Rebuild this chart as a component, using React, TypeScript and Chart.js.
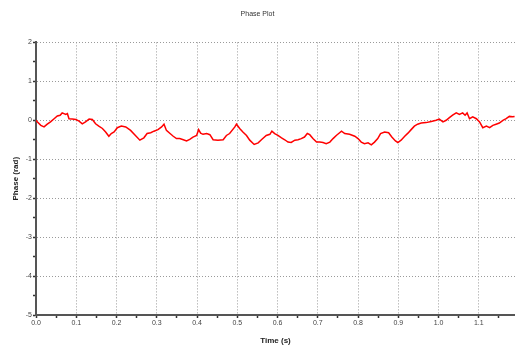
import React, { useEffect, useRef } from "react";
import { Chart, registerables } from "chart.js";

Chart.register(...registerables);

const chartTitle = "Phase Plot";
const xAxisTitle = "Time (s)";
const yAxisTitle = "Phase (rad)";

const timeValues = [
  0, 0.003, 0.012, 0.02, 0.028, 0.036, 0.045, 0.053, 0.06, 0.065, 0.074, 0.078, 0.082, 0.09, 0.099,
  0.107, 0.115, 0.123, 0.132, 0.14, 0.148, 0.156, 0.165, 0.173, 0.181, 0.187, 0.194, 0.202, 0.212,
  0.223, 0.235, 0.247, 0.258, 0.268, 0.276, 0.285, 0.293, 0.303, 0.312, 0.318, 0.324, 0.333, 0.341,
  0.349, 0.357, 0.366, 0.374, 0.382, 0.39, 0.399, 0.404, 0.409, 0.415, 0.424, 0.432, 0.44, 0.452,
  0.465, 0.473, 0.481, 0.494, 0.498, 0.506, 0.514, 0.523, 0.531, 0.542, 0.552, 0.56, 0.572, 0.581,
  0.586, 0.593, 0.601, 0.61, 0.618, 0.626, 0.634, 0.643, 0.651, 0.659, 0.667, 0.674, 0.68, 0.688,
  0.697, 0.705, 0.713, 0.721, 0.73, 0.738, 0.746, 0.752, 0.759, 0.767, 0.779, 0.792, 0.8, 0.808,
  0.816, 0.825, 0.833, 0.841, 0.849, 0.856, 0.866, 0.876, 0.884, 0.893, 0.899, 0.907, 0.916, 0.924,
  0.932, 0.94, 0.948, 0.957, 0.969, 0.982, 0.994, 1.002, 1.011, 1.019, 1.027, 1.035, 1.044, 1.052,
  1.06, 1.066, 1.071, 1.077, 1.085, 1.094, 1.102, 1.11, 1.119, 1.127, 1.135, 1.143, 1.151, 1.16,
  1.168, 1.176, 1.184, 1.189,
];

const phaseValues = [
  0, -0.04, -0.13, -0.17, -0.1, -0.04, 0.04, 0.11, 0.13, 0.19, 0.15, 0.17, 0.04, 0.03, 0.02,
  -0.02, -0.09, -0.04, 0.03, 0.02, -0.09, -0.15, -0.21, -0.3, -0.41, -0.34, -0.3, -0.19, -0.15,
  -0.17, -0.26, -0.39, -0.51, -0.45, -0.34, -0.32, -0.28, -0.24, -0.17, -0.1, -0.26, -0.34, -0.41,
  -0.47, -0.47, -0.5, -0.53, -0.49, -0.43, -0.39, -0.24, -0.33, -0.36, -0.34, -0.37, -0.5, -0.51,
  -0.5, -0.39, -0.34, -0.17, -0.1, -0.21, -0.3, -0.39, -0.51, -0.62, -0.58, -0.5, -0.39, -0.36,
  -0.28, -0.34, -0.39, -0.45, -0.5, -0.56, -0.57, -0.51, -0.5, -0.47, -0.43, -0.34, -0.37, -0.47,
  -0.56, -0.56, -0.57, -0.6, -0.56, -0.47, -0.39, -0.34, -0.28, -0.34, -0.36, -0.41, -0.47, -0.56,
  -0.6, -0.58, -0.63, -0.56, -0.47, -0.34, -0.3, -0.32, -0.43, -0.53, -0.57, -0.51, -0.41, -0.33,
  -0.24, -0.15, -0.1, -0.07, -0.06, -0.03, 0, 0.03, -0.04, 0, 0.07, 0.13, 0.19, 0.15,
  0.19, 0.13, 0.19, 0.04, 0.09, 0.04, -0.04, -0.19, -0.15, -0.19, -0.13, -0.1, -0.07, 0,
  0.04, 0.1, 0.09, 0.1,
];

const xMin = 0;
const xMax = 1.19;
const xMajorStep = 0.1;
const xMinorStep = 0.05;
const yMin = -5;
const yMax = 2;
const yMinorStep = 0.5;

function isMultiple(v: number, step: number) {
  const r = v / step;
  return Math.abs(r - Math.round(r)) < 1e-6;
}

export default function App() {
  const canvasRef = useRef<HTMLCanvasElement | null>(null);

  useEffect(() => {
    const canvas = canvasRef.current;
    if (!canvas) return;
    const points = timeValues.map((t, i) => ({ x: t, y: phaseValues[i] }));
    const tickFont = { family: "'Liberation Sans', Arial, sans-serif", size: 7 };
    const titleFont = { family: "'Liberation Sans', Arial, sans-serif", size: 8, weight: "bold" as const };

    const chart = new Chart(canvas, {
      type: "line",
      data: {
        datasets: [
          {
            data: points,
            borderColor: "#ff0000",
            borderWidth: 1.5,
            pointRadius: 0,
            tension: 0,
            fill: false,
          },
        ],
      },
      options: {
        animation: false,
        responsive: false,
        maintainAspectRatio: false,
        layout: { padding: { left: 0, right: 0, top: 0, bottom: 0 } },
        plugins: {
          legend: { display: false },
          tooltip: { enabled: false },
          title: {
            display: true,
            text: chartTitle,
            color: "#333",
            font: { family: "'Liberation Sans', Arial, sans-serif", size: 7, weight: "normal" },
            padding: { top: 10, bottom: 24 },
          },
        },
        scales: {
          x: {
            type: "linear",
            min: xMin,
            max: xMax,
            afterBuildTicks: (scale: any) => {
              const ticks = [];
              const n = Math.floor((xMax - xMin) / xMinorStep + 1e-6);
              for (let i = 0; i <= n; i++) ticks.push({ value: +(xMin + i * xMinorStep).toFixed(4) });
              scale.ticks = ticks;
            },
            afterFit: (scale: any) => {
              scale.height = 37;
            },
            ticks: {
              autoSkip: false,
              maxRotation: 0,
              padding: 1,
              color: "#444",
              font: tickFont,
              callback: (v: any) => (isMultiple(Number(v), xMajorStep) ? Number(v).toFixed(1) : ""),
            },
            grid: {
              color: (ctx: any) =>
                ctx.tick && isMultiple(ctx.tick.value, xMajorStep) ? "#9a9a9a" : "rgba(0,0,0,0)",
              lineWidth: 1,
              tickColor: "#333",
              tickLength: 3,
              tickWidth: 1.5,
              tickBorderDash: [],
            },
            border: { display: true, color: "#555", width: 2, dash: [1, 2] },
            title: {
              display: true,
              text: xAxisTitle,
              color: "#222",
              font: titleFont,
              padding: { top: 0, bottom: 6 },
            },
          },
          y: {
            type: "linear",
            min: yMin,
            max: yMax,
            afterBuildTicks: (scale: any) => {
              const ticks = [];
              const n = Math.round((yMax - yMin) / yMinorStep);
              for (let i = 0; i <= n; i++) ticks.push({ value: yMin + i * yMinorStep });
              scale.ticks = ticks;
            },
            afterFit: (scale: any) => {
              scale.width = 36;
            },
            ticks: {
              autoSkip: false,
              padding: 1,
              color: "#444",
              font: tickFont,
              callback: (v: any) => (isMultiple(Number(v), 1) ? String(Number(v)) : ""),
            },
            grid: {
              color: (ctx: any) =>
                ctx.tick && isMultiple(ctx.tick.value, 1) ? "#9a9a9a" : "rgba(0,0,0,0)",
              lineWidth: 1,
              tickColor: "#333",
              tickLength: 3,
              tickWidth: 1.5,
              tickBorderDash: [],
            },
            border: { display: true, color: "#555", width: 2, dash: [1, 2] },
            title: {
              display: true,
              text: yAxisTitle,
              color: "#222",
              font: titleFont,
              padding: { top: 11, bottom: 0 },
            },
          },
        },
      },
    });
    return () => chart.destroy();
  }, []);

  return (
    <div style={{ position: "absolute", left: 0, top: 0, width: 515, height: 352, background: "#fff" }}>
      <canvas ref={canvasRef} width={515} height={352} />
    </div>
  );
}
